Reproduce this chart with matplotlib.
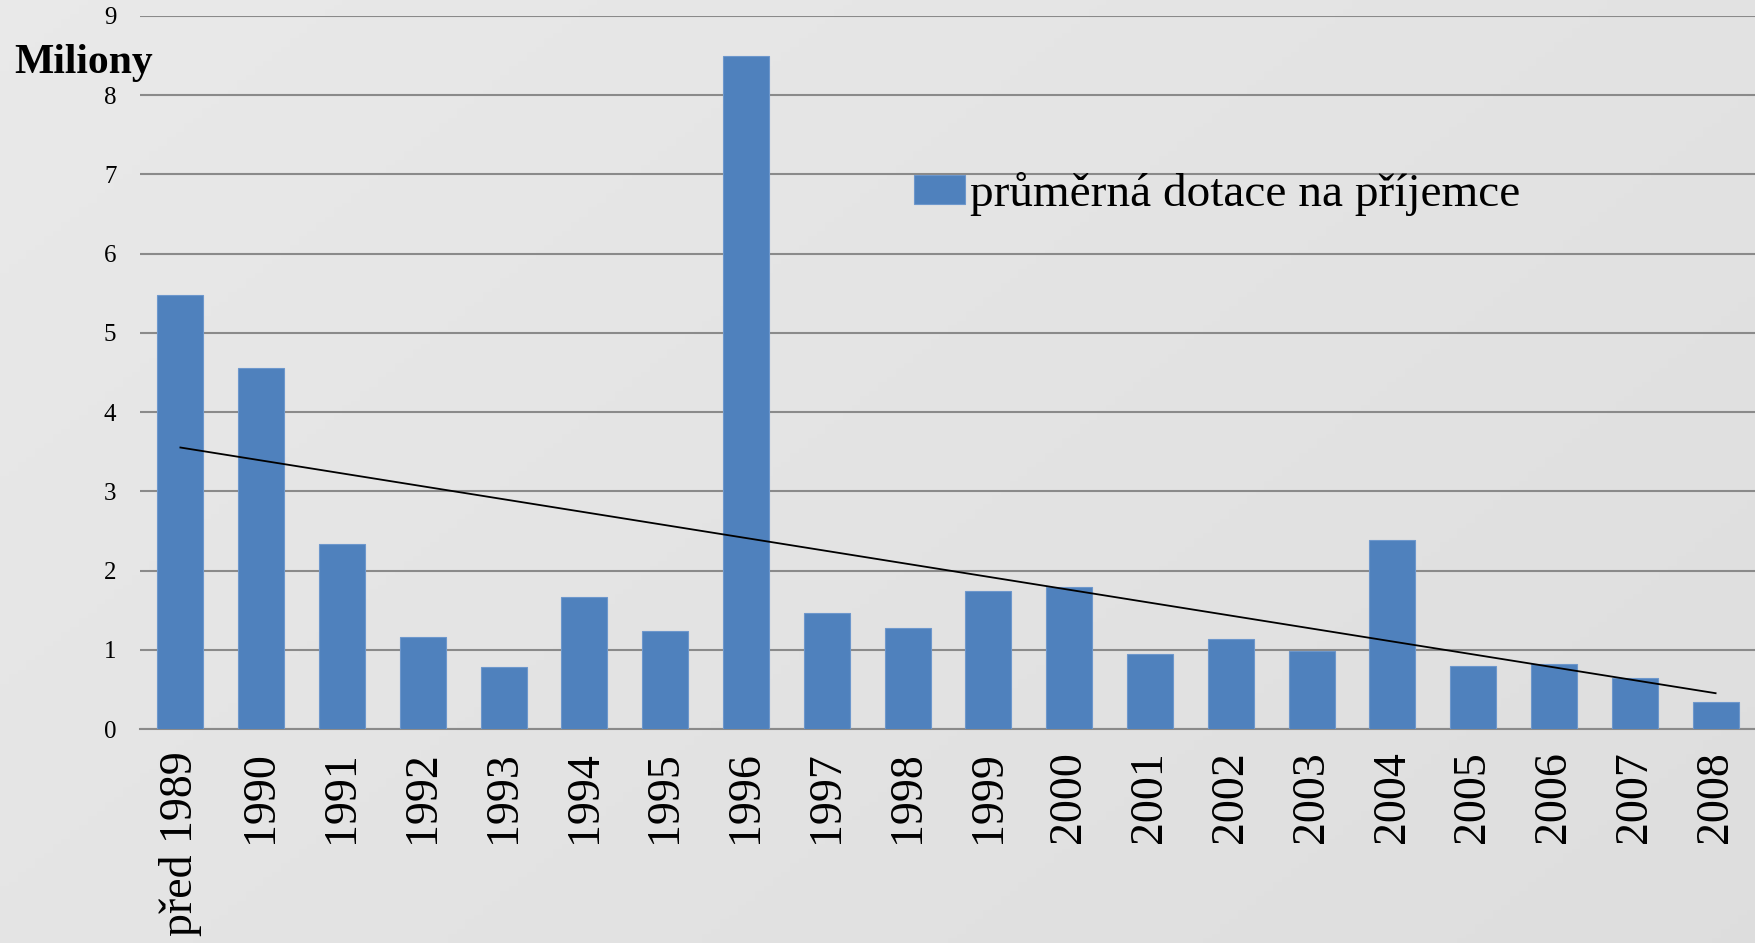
import numpy as np
import matplotlib
matplotlib.use("Agg")
import matplotlib.pyplot as plt

categories = ["před 1989", "1990", "1991", "1992", "1993", "1994", "1995", "1996", "1997", "1998",
              "1999", "2000", "2001", "2002", "2003", "2004", "2005", "2006", "2007", "2008"]
values = [5.48, 4.56, 2.33, 1.16, 0.78, 1.67, 1.24, 8.50, 1.47, 1.27,
          1.74, 1.79, 0.95, 1.13, 0.99, 2.39, 0.79, 0.82, 0.65, 0.34]
series_name = "průměrná dotace na příjemce"
y_ticks = list(range(0, 10))

plt.rcParams['font.family'] = ['Liberation Serif', 'DejaVu Serif']

W, H = 1756, 943
fig = plt.figure(figsize=(W / 100, H / 100), dpi=100)

# background gradient
bg = fig.add_axes([0, 0, 1, 1], zorder=-10)
yy, xx = np.mgrid[0:1:200j, 0:1:200j]
g = 0.915 - 0.045 * (0.6 * xx + 0.4 * yy)
bg.imshow(np.dstack([g, g, g]), aspect='auto', extent=[0, 1, 0, 1], origin='upper')
bg.axis('off')

ax = fig.add_axes([140 / W, 1 - 729 / H, 1 - 140 / W, (729 - 16) / H])
ax.set_facecolor('none')

x = np.arange(len(categories))
ax.bar(x, values, width=0.57, color='#4F81BD', edgecolor='#6d97cc', linewidth=0.8,
       label=series_name, zorder=3)

coef = np.polyfit(x, values, 1)
ax.plot(x, np.polyval(coef, x), color='black', linewidth=1.3, zorder=4)

ax.set_xlim(-0.5, len(categories) - 0.5)
ax.set_ylim(0, 9)
ax.set_yticks(y_ticks)
ax.yaxis.grid(True, color='#8a8a8a', linewidth=1.5, zorder=1)
ax.set_axisbelow(True)
for s in ['top', 'right', 'left']:
    ax.spines[s].set_visible(False)
ax.spines['bottom'].set_color('#8a8a8a')
ax.spines['bottom'].set_linewidth(1.5)
ax.tick_params(axis='y', length=0, pad=17, labelsize=18)
ax.tick_params(axis='x', length=0, pad=16, labelsize=33)
ax.set_xticks(x)
ax.set_xticklabels(categories, rotation=90, va='top', ha='center')

leg = ax.legend(loc='center left', bbox_to_anchor=(914 / W, 1 - 194 / H), bbox_transform=fig.transFigure,
                frameon=False, fontsize=34, handlelength=1.07, handleheight=0.55, handletextpad=0.12,
                borderaxespad=0, borderpad=0)

fig.text(14 / W, 1 - 63 / H, "Miliony", fontsize=30, fontweight='bold', va='center', ha='left')

fig.savefig("out.png", dpi=100)
